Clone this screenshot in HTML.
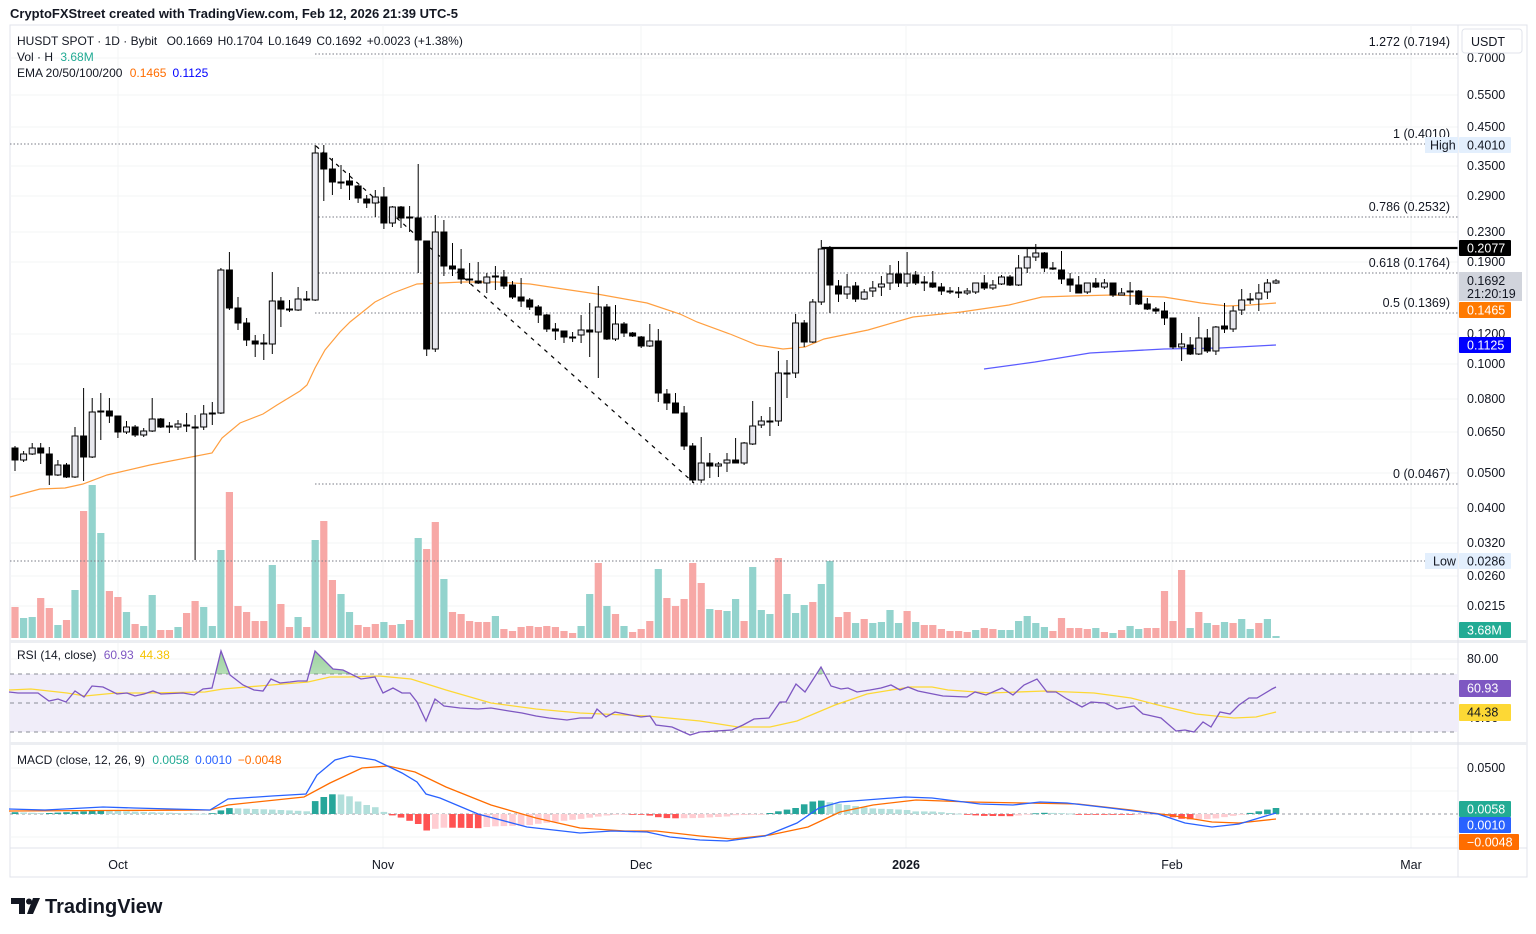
<!DOCTYPE html>
<html><head><meta charset="utf-8"><style>
html,body{margin:0;padding:0;background:#fff;width:1536px;height:934px;overflow:hidden}
svg{display:block;font-family:"Liberation Sans",sans-serif}
</style></head><body>
<svg id="s" width="1536" height="934" xmlns="http://www.w3.org/2000/svg"></svg>
<script>
const S=document.getElementById('s');let H='';
function add(s){H+=s;}
// candles: dir, bodyTop, bodyBot, wickTop, wickBot
const C=`D 448 460 446 471
U 454 460 451 462
U 448 454 443 455
D 448 453 443 464
D 454 475 447 485
U 465 475 460 476
D 465 477 463 478
U 436 477 427 478
D 436 457 388 481
U 412 457 398 458
D 411 411 393 440
D 411 416 398 423
D 416 432 416 438
U 427 432 421 434
D 427 435 425 437
U 431 435 428 437
U 419 431 398 432
D 419 427 418 428
D 426 426 422 433
U 424 427 420 430
D 425 425 413 432
D 427 427 415 560
U 414 427 405 430
D 413 413 402 425
U 270 413 268 414
D 270 308 252 310
D 308 323 297 330
D 323 340 318 346
D 341 344 335 357
D 343 343 334 360
U 301 344 272 354
D 301 309 297 327
D 309 309 300 312
U 299 310 287 311
D 299 299 291 301
U 153 300 145 301
D 153 169 145 201
D 169 182 158 195
D 182 182 165 189
D 181 185 173 200
D 186 198 185 203
D 199 203 195 208
U 197 203 190 217
D 197 223 187 229
U 207 223 206 227
D 207 218 206 228
D 217 217 206 232
D 218 240 164 273
D 241 349 241 356
U 232 349 215 352
D 232 266 220 276
D 266 269 243 276
D 269 279 249 284
D 279 279 263 284
D 281 283 262 284
U 277 283 273 293
D 276 276 266 290
D 277 286 270 289
D 285 297 281 299
D 297 301 278 307
D 300 307 298 310
D 307 315 305 323
D 315 329 314 332
D 329 331 323 340
D 331 337 331 343
D 337 337 332 342
U 330 335 315 343
D 330 332 303 357
U 307 332 286 378
D 307 339 304 340
U 324 339 305 341
D 324 333 322 337
D 333 336 332 337
D 337 346 336 348
U 341 346 324 347
D 341 393 329 402
D 394 403 389 410
D 403 413 393 413
D 413 446 406 450
D 446 480 443 483
U 463 480 437 483
D 463 466 453 478
U 464 466 462 477
U 460 463 453 472
D 460 463 438 463
U 443 463 442 465
U 426 444 401 445
U 421 425 416 428
D 421 421 407 436
U 373 421 351 426
D 373 373 360 398
U 323 373 314 378
D 323 342 320 347
U 302 342 299 343
U 249 302 240 305
D 249 285 246 313
D 286 294 280 302
U 287 294 274 299
D 286 299 282 302
U 292 299 289 300
U 288 291 281 297
U 284 287 276 296
U 274 283 265 290
D 274 283 261 287
U 274 283 252 287
D 275 283 271 285
D 282 282 276 291
D 283 287 271 288
D 287 291 283 295
D 291 291 287 294
D 292 292 287 298
U 291 293 288 295
U 283 292 283 294
D 283 288 275 290
U 285 288 280 290
U 277 284 275 285
D 277 285 275 286
U 268 285 255 286
U 257 268 247 273
U 253 257 244 261
D 253 268 252 272
D 268 268 262 270
D 270 279 251 284
D 279 285 273 292
D 285 293 276 293
U 283 292 283 294
D 283 287 278 288
U 283 287 279 289
D 283 295 283 297
U 293 295 288 295
D 291 291 282 305
D 291 304 290 305
D 304 309 298 310
D 309 311 307 314
D 311 318 302 325
D 318 347 318 349
U 344 347 333 361
D 345 354 337 355
U 338 354 317 355
D 338 351 329 353
U 327 351 326 355
D 326 329 303 333
U 311 329 306 332
U 300 310 289 315
D 299 299 293 304
U 293 299 284 311
U 283 292 279 299
U 281 283 279 284`.split('\n').map(l=>l.trim().split(' '));
const V=[607,618,617,598,608,625,620,590,511,485,533,591,597,612,624,626,595,630,630,627,613,601,607,626,550,492,606,612,621,621,565,604,627,617,627,540,521,580,
594,612,625,627,624,622,625,624,620,538,549,522,579,612,614,621,622,622,616,629,631,627,626,627,626,627,631,633,626,594,563,606,614,626,632,629,621,569,598,606,599,563,583,609,610,
611,599,621,567,610,614,558,594,613,605,602,584,561,617,612,623,619,623,622,610,623,611,622,625,625,629,631,631,632,630,628,629,630,630,621,616,623,627,631,618,628,628,629,628,632,633,630,626,629,628,628,591,621,570,628,612,623,625,622,623,619,629,623,619,636];
const VC=('t,r,t,t,r,r,t,r,t,r,t,t,r,r,t,r,t,t,r,r,t,r,r,t,t,t,r,r,r,r,r,t,r,r,t,r,t,r,r,'.replace(/^t,/,'')+
'r,t,r,r,r,t,r,t,r,t,r,r,t,r,r,r,r,r,t,r,r,r,r,r,r,r,r,r,t,t,r,t,r,t,r,r,r,t,r,r,r,r,r,t,r,t,'.replace(/^r,/,'t,')+
't,r,t,t,t,r,t,t,t,r,t,t,r,r,t,r,t,t,t,t,r,t,r,r,r,r,r,r,t,r,r,t,t,t,t,t,t,r,r,r,r,r,t,r,t,r,t,t,r,r,r,r,r,t,r,t,r,t,r,t,t,r,t,t,t').split(',').filter(x=>x);
const X=i=>15+i*8.578;
const pl=(pts)=>pts.map(p=>p[0]+','+p[1]).join(' ');
// frame
add('<rect width="1536" height="934" fill="#fff"/>');
add('<rect x="10" y="25" width="1517" height="852" fill="none" stroke="#e0e3eb"/>');
// grid
[58,95,127,166,196,232,262,334,364,399,432,473,508,543,576,606].forEach(y=>add(`<line x1="10" x2="1458" y1="${y}" y2="${y}" stroke="#f3f4f6"/>`));
[118,383,641,906,1172,1411].forEach(x=>add(`<line x1="${x}" x2="${x}" y1="25" y2="848" stroke="#f3f4f6"/>`));
[659,688,717,768,791,837].forEach(y=>add(`<line x1="10" x2="1458" y1="${y}" y2="${y}" stroke="#f3f4f6"/>`));
// volume
for(let i=0;i<148;i++){const t=V[i];const c=VC[i]==='t'?'#93d3cd':'#f7a8a6';add(`<rect x="${(X(i)-3.6).toFixed(1)}" y="${t}" width="7.2" height="${638-t}" fill="${c}"/>`);}
// fib lines
const dl='stroke="#787b86" stroke-width="1" stroke-dasharray="1.5,2"';
add(`<line x1="315" x2="1458" y1="54" y2="54" ${dl}/>`);
add(`<line x1="10" x2="1458" y1="144" y2="144" ${dl}/>`);
[217,273,313,484].forEach(y=>add(`<line x1="315" x2="1458" y1="${y}" y2="${y}" ${dl}/>`));
add(`<line x1="10" x2="1458" y1="561" y2="561" ${dl}/>`);
add('<line x1="822" x2="1458" y1="248" y2="248" stroke="#000" stroke-width="2.2"/>');
add('<line x1="316" y1="146" x2="694" y2="483" stroke="#000" stroke-width="1.2" stroke-dasharray="4,5"/>');
// EMAs
const e50=[[10,497],[40,489],[65,488],[83,484],[107,475],[150,465],[212,453],[222,438],[240,423],[263,414],[277,405],[300,391],[307,385],[315,368],[325,350],[340,332],[350,322],[375,302],[393,293],[417,284],[440,283],[463,282],[497,282],[530,284],[563,289],[597,294],[647,303],[680,314],[697,322],[730,334],[757,345],[783,349],[805,347],[824,339],[868,330],[913,317],[961,312],[1009,305],[1042,297],[1072,296],[1113,295],[1164,297],[1201,303],[1227,306],[1250,305],[1276,303]];
add(`<polyline points="${pl(e50)}" fill="none" stroke="#ff9f40" stroke-width="1.2"/>`);
add(`<polyline points="${pl([[984,369],[1035,362],[1090,353],[1164,349],[1220,348],[1276,345]])}" fill="none" stroke="#5b5bff" stroke-width="1.3"/>`);
// candles
C.forEach((c,i)=>{const x=X(i);const u=c[0]==='U';const bt=+c[1],bb=+c[2],wt=+c[3],wb=+c[4];
add(`<line x1="${x.toFixed(1)}" x2="${x.toFixed(1)}" y1="${wt}" y2="${wb}" stroke="#000" stroke-width="1"/>`);
const h=Math.max(bb-bt,1);
if(u)add(`<rect x="${(x-3).toFixed(1)}" y="${bt}" width="6" height="${h}" fill="#e8e8ee" stroke="#000" stroke-width="1"/>`);
else add(`<rect x="${(x-3.5).toFixed(1)}" y="${bt-0.5}" width="7" height="${h+1}" fill="#000"/>`);});
// fib labels
const fl=(t,y)=>add(`<text x="1450" y="${y}" font-size="12.5" fill="#131722" text-anchor="end">${t}</text>`);
fl('1.272 (0.7194)',46);fl('1 (0.4010)',138);fl('0.786 (0.2532)',211);fl('0.618 (0.1764)',267);fl('0.5 (0.1369)',307);fl('0 (0.0467)',478);
// pane separators
add('<rect x="10" y="640" width="1517" height="3" fill="#eceef2"/><rect x="10" y="742" width="1517" height="3" fill="#eceef2"/>');
add('<line x1="10" x2="1527" y1="848" y2="848" stroke="#e0e3eb"/>');
add('<line x1="1458" x2="1458" y1="25" y2="877" stroke="#e0e3eb"/>');
// RSI
add('<rect x="10" y="674" width="1448" height="58" fill="#f0edf9"/>');
[674,703,732].forEach(y=>add(`<line x1="10" x2="1458" y1="${y}" y2="${y}" stroke="#8a8d96" stroke-dasharray="4,4"/>`));
const rsi=[[9,692],[18,693],[38,693],[49,701],[58,699],[66,702],[75,691],[84,697],[92,686],[103,687],[117,694],[127,693],[135,696],[144,694],[153,691],[161,694],[183,693],[194,695],[203,689],[212,688],[221,651],[230,675],[243,685],[254,690],[263,691],[271,679],[280,683],[290,682],[298,681],[307,681],[315,651],[333,669],[343,670],[353,675],[361,679],[375,677],[383,693],[393,688],[402,693],[410,693],[417,702],[426,721],[435,699],[444,706],[460,708],[478,709],[491,708],[509,711],[522,713],[536,716],[549,718],[567,720],[580,718],[592,718],[597,709],[606,717],[615,712],[625,714],[641,717],[650,716],[656,725],[672,727],[690,735],[700,732],[732,730],[743,725],[754,719],[769,718],[780,702],[786,702],[796,684],[805,692],[821,667],[831,686],[841,689],[848,688],[857,692],[870,690],[881,688],[891,685],[900,690],[908,687],[918,691],[943,696],[967,697],[975,692],[986,695],[1002,688],[1013,695],[1024,685],[1037,679],[1047,692],[1056,692],[1067,699],[1082,707],[1091,702],[1105,703],[1117,709],[1134,706],[1143,714],[1161,718],[1176,731],[1185,730],[1194,732],[1203,722],[1211,727],[1220,712],[1230,714],[1239,705],[1249,698],[1257,698],[1272,689],[1276,687]];
add('<defs><clipPath id="ob"><rect x="0" y="0" width="1536" height="674"/></clipPath><linearGradient id="gg" x1="0" y1="0" x2="0" y2="1"><stop offset="0" stop-color="#4caf50" stop-opacity="0.55"/><stop offset="1" stop-color="#4caf50" stop-opacity="0.05"/></linearGradient></defs>');
add(`<polygon clip-path="url(#ob)" points="${pl([[9,674]].concat(rsi,[[1276,674]]))}" fill="url(#gg)"/>`);
const rma=[[9,690],[31,689],[67,693],[85,696],[116,693],[147,693],[205,692],[223,689],[259,686],[308,682],[330,677],[348,677],[379,676],[411,679],[446,690],[491,703],[536,709],[580,713],[647,716],[700,721],[738,727],[770,727],[797,721],[835,705],[867,694],[910,687],[932,687],[948,690],[991,693],[1045,691],[1094,693],[1131,698],[1158,705],[1196,714],[1234,718],[1256,717],[1276,712]];
add(`<polyline points="${pl(rma)}" fill="none" stroke="#fdd835" stroke-width="1.3"/>`);
add(`<polyline points="${pl(rsi)}" fill="none" stroke="#7e57c2" stroke-width="1.3"/>`);
// MACD
add('<line x1="10" x2="1458" y1="814" y2="814" stroke="#9598a1" stroke-dasharray="3,3"/>');
const mb=[[9,809],[45,810],[103,807],[134,808],[210,810],[228,799],[272,796],[306,794],[317,775],[335,760],[350,756],[375,760],[402,773],[417,782],[426,794],[440,798],[478,814],[527,827],[580,833],[612,831],[647,832],[670,837],[700,840],[727,841],[765,836],[797,823],[819,808],[840,802],[905,797],[932,798],[980,804],[1013,805],[1040,802],[1067,803],[1110,808],[1158,814],[1185,823],[1212,827],[1239,824],[1276,813]];
const mo=[[9,811],[210,810],[228,805],[304,797],[330,783],[362,768],[388,766],[415,772],[446,787],[491,805],[536,818],[580,828],[625,831],[656,831],[700,836],[732,839],[770,835],[808,827],[840,812],[873,805],[916,800],[970,802],[1024,803],[1078,804],[1131,810],[1175,816],[1212,822],[1239,823],[1276,819]];
function ip(a,x){if(x<=a[0][0])return a[0][1];for(let i=1;i<a.length;i++){if(x<=a[i][0]){const t=(x-a[i-1][0])/(a[i][0]-a[i-1][0]);return a[i-1][1]+t*(a[i][1]-a[i-1][1]);}}return a[a.length-1][1];}
let prev=0;
for(let i=0;i<148;i++){const x=X(i);const h=ip(mo,x)-ip(mb,x);let col;
if(h>=0)col=h>=prev?'#26a69a':'#b2dfdb';else col=h<prev?'#ff5252':'#ffcdd2';prev=h;
const y=h>=0?814-h:814;add(`<rect x="${(x-3.3).toFixed(1)}" y="${y.toFixed(1)}" width="6.6" height="${Math.max(Math.abs(h),0.8).toFixed(1)}" fill="${col}"/>`);}
add(`<polyline points="${pl(mo)}" fill="none" stroke="#ff6d00" stroke-width="1.3"/>`);
add(`<polyline points="${pl(mb)}" fill="none" stroke="#2962ff" stroke-width="1.3"/>`);
// right axis labels
const al=(t,y)=>add(`<text x="1467" y="${y+4}" font-size="12.5" fill="#131722">${t}</text>`);
[['0.7000',58],['0.5500',95],['0.4500',127],['0.3500',166],['0.2900',196],['0.2300',232],['0.1900',262],['0.1200',334],['0.1000',364],['0.0800',399],['0.0650',432],['0.0500',473],['0.0400',508],['0.0320',543],['0.0260',576],['0.0215',606],['80.00',659],['40.00',718],['0.0500',768]].forEach(a=>al(a[0],a[1]));
add('<rect x="1462" y="29" width="60" height="24" rx="3" fill="#fff" stroke="#e0e3eb"/><text x="1471" y="46" font-size="12.5" fill="#131722">USDT</text>');
const tag=(y,h,bg,fg,t,w)=>{add(`<rect x="1459" y="${y}" width="${w||52}" height="${h}" fill="${bg}" rx="1"/><text x="1467" y="${y+12.5}" font-size="12.5" fill="${fg}">${t}</text>`);};
add('<rect x="1425" y="137" width="33" height="16" fill="#e3effd"/><text x="1430" y="149.5" font-size="12.5" fill="#131722">High</text>');
tag(137,16,'#e3effd','#131722','0.4010');
add('<rect x="1425" y="553" width="33" height="16" fill="#e3effd"/><text x="1433" y="565.5" font-size="12.5" fill="#131722">Low</text>');
tag(553,16,'#e3effd','#131722','0.0286');
tag(240,16,'#000','#fff','0.2077');
add('<rect x="1459" y="272" width="63" height="29" fill="#d1d4dc"/><text x="1467" y="285" font-size="12.5" fill="#131722">0.1692</text><text x="1467" y="298" font-size="12.5" fill="#131722">21:20:19</text>');
tag(302,16,'#ff7a00','#fff','0.1465');
tag(337,16,'#0000ff','#fff','0.1125');
tag(622,16,'#22ab94','#fff','3.68M');
tag(680,17,'#7e57c2','#fff','60.93');
tag(704,17,'#fdd835','#131722','44.38');
tag(801,16,'#22ab94','#fff','0.0058');
tag(817,16,'#2962ff','#fff','0.0010');
tag(834,16,'#ff6d00','#fff','&#8722;0.0048',60);
// time axis
[['Oct',118],['Nov',383],['Dec',641],['Feb',1172],['Mar',1411]].forEach(a=>add(`<text x="${a[1]}" y="869" font-size="12.5" fill="#131722" text-anchor="middle">${a[0]}</text>`));
add('<text x="906" y="869" font-size="12.5" font-weight="bold" fill="#131722" text-anchor="middle">2026</text>');
// header & legends
add('<text x="10" y="18" font-size="13" fill="#131722" font-weight="bold" style="font-weight:600">CryptoFXStreet created with TradingView.com, Feb 12, 2026 21:39 UTC-5</text>');
add('<text x="17" y="45" font-size="12" fill="#131722">HUSDT SPOT · 1D · Bybit <tspan dx="6">O</tspan><tspan>0.1669</tspan><tspan dx="5">H</tspan>0.1704<tspan dx="5">L</tspan>0.1649<tspan dx="5">C</tspan>0.1692<tspan dx="5">+0.0023 (+1.38%)</tspan></text>');
add('<text x="17" y="61" font-size="12" fill="#131722">Vol · H <tspan fill="#22ab94" dx="4">3.68M</tspan></text>');
add('<text x="17" y="77" font-size="12" fill="#131722">EMA 20/50/100/200 <tspan fill="#ff6d00" dx="4">0.1465</tspan><tspan fill="#0000ff" dx="6">0.1125</tspan></text>');
add('<text x="17" y="659" font-size="12" fill="#131722">RSI (14, close) <tspan fill="#7e57c2" dx="4">60.93</tspan><tspan fill="#f5c400" dx="6">44.38</tspan></text>');
add('<text x="17" y="764" font-size="12" fill="#131722">MACD (close, 12, 26, 9) <tspan fill="#22ab94" dx="4">0.0058</tspan><tspan fill="#2962ff" dx="6">0.0010</tspan><tspan fill="#ff6d00" dx="6">&#8722;0.0048</tspan></text>');
// footer logo
add('<path d="M11 898 h14 v16 h-6 v-10 h-8z" fill="#131722"/><circle cx="29" cy="901.5" r="3" fill="#131722"/><path d="M33 898 h7 l-7 16 h-6z" fill="#131722"/>');
add('<text x="45" y="913" font-size="20" font-weight="bold" fill="#131722">TradingView</text>');
S.innerHTML=H;
</script>
</body></html>
